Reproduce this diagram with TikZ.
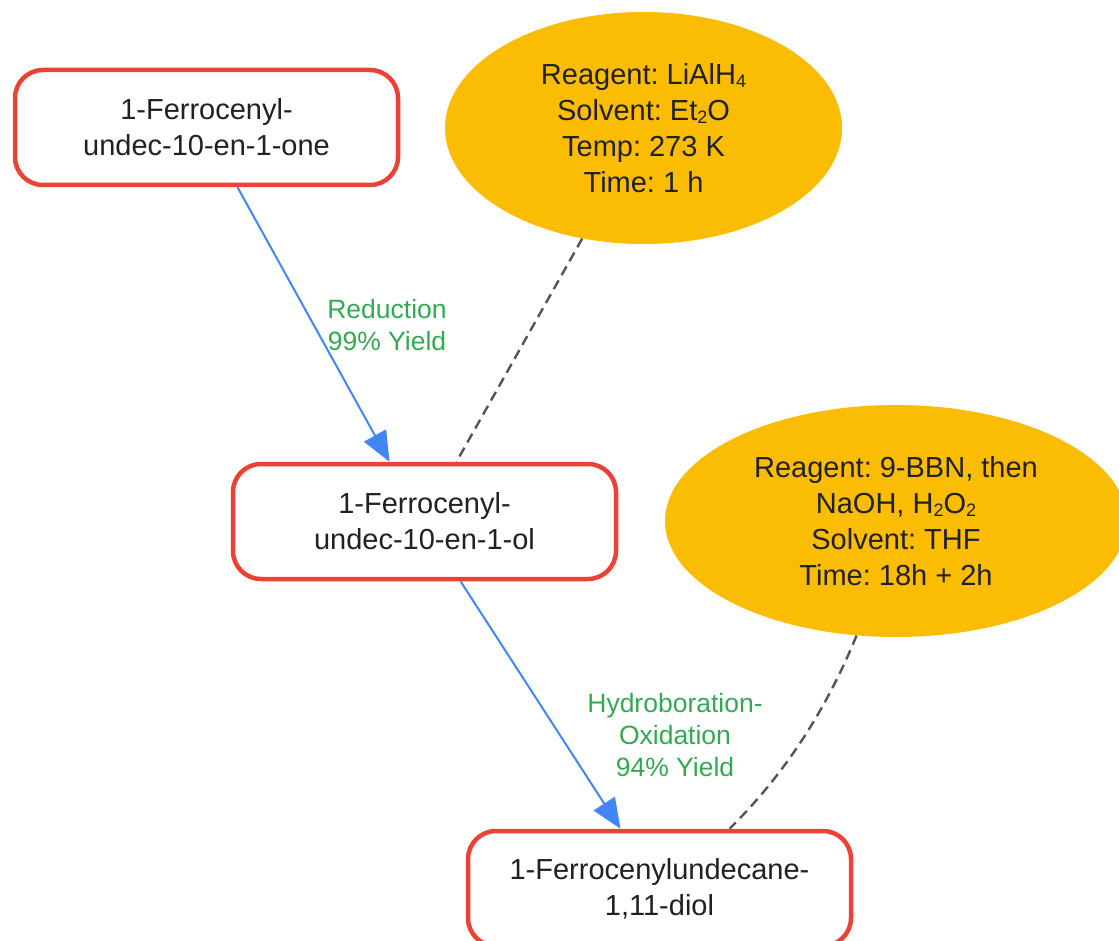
\documentclass[tikz,border=0pt]{standalone}
\usepackage{fontspec}
\setmainfont{Liberation Sans}
\usetikzlibrary{shapes.geometric,arrows.meta,calc}
\definecolor{boxred}{HTML}{EA4335}
\definecolor{condyellow}{HTML}{FBBC04}
\definecolor{arrowblue}{HTML}{4285F4}
\definecolor{labelgreen}{HTML}{34A853}
\definecolor{dashgray}{HTML}{555555}
\definecolor{textdark}{HTML}{202124}
\frenchspacing
\newcommand{\chsub}[1]{\raisebox{-0.12em}{\fontsize{18}{18}\selectfont #1}}
\tikzset{
  compound/.style={draw=boxred, line width=4.5pt, rounded corners=28pt, fill=white,
    minimum width=383pt, minimum height=115pt, inner sep=0pt, align=center,
    text=textdark, font=\fontsize{29}{36}\selectfont},
  conditions/.style={ellipse, fill=condyellow, inner sep=0pt, align=center,
    text=textdark, font=\fontsize{29}{36}\selectfont},
  reaction/.style={draw=arrowblue, line width=2pt, -{Triangle[length=30pt,width=25pt]}},
  steplabel/.style={text=labelgreen, align=center, font=\fontsize{26.5}{32}\selectfont},
  condlink/.style={draw=dashgray, line width=2.4pt, dash pattern=on 10pt off 6pt},
}
\begin{document}
\begin{tikzpicture}[x=1pt,y=-1pt]
\useasboundingbox (0,0) rectangle (1119,941);
\node[compound] (b1) at (206.5,127.5) {1-Ferrocenyl-\\undec-10-en-1-one};
\node[compound] (b2) at (424.5,521.5) {1-Ferrocenyl-\\undec-10-en-1-ol};
\node[compound] (b3) at (659.5,888.5) {1-Ferrocenylundecane-\\1,11-diol};
\node[conditions, minimum width=397pt, minimum height=232pt] (e1) at (643.5,128)
  {Reagent: LiAlH\chsub{4}\\Solvent: Et\chsub{2}O\\Temp: 273 K\\Time: 1 h};
\node[conditions, minimum width=462pt, minimum height=232pt] (e2) at (896,521)
  {Reagent: 9-BBN, then\\NaOH, H\chsub{2}O\chsub{2}\\Solvent: THF\\Time: 18h + 2h};
\draw[condlink] (e1.241) -- ($(b2.north)+(32,0)$);
\draw[condlink] (e2.251) .. controls (826,710) and (785,774) .. ($(b3.north)+(70,0)$);
\draw[reaction] ($(b1.south)+(31,0)$) -- ($(b2.north)+(-35,0)$);
\draw[reaction] ($(b2.south)+(36,0)$) -- ($(b3.north)+(-39,0)$);
\node[steplabel] (l1) at (387,325) {Reduction\\99\% Yield};
\node[steplabel] (l2) at (675,735) {Hydroboration-\\Oxidation\\94\% Yield};
\end{tikzpicture}
\end{document}
